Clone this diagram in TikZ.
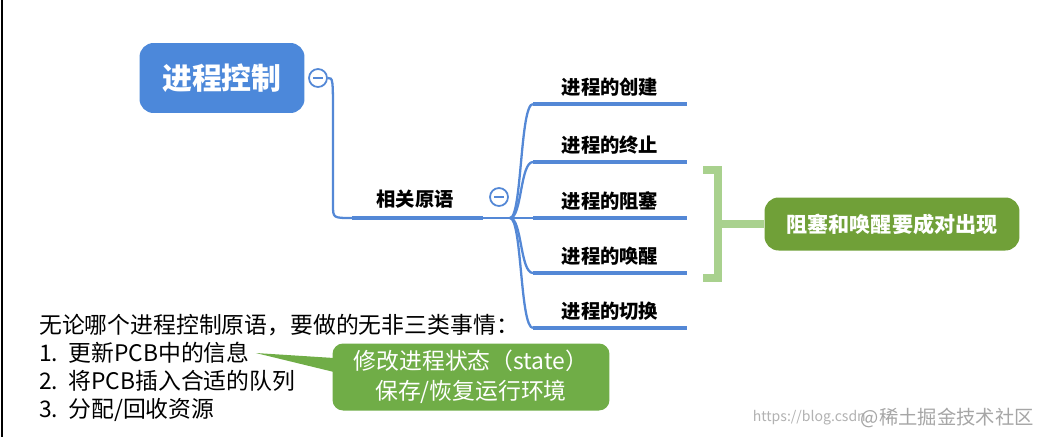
\documentclass[tikz,border=0pt]{standalone}
\usepackage{fontspec}
\setmainfont{Noto Sans CJK SC}
\newfontfamily\cjk{Noto Sans CJK SC}
\begin{document}
\begin{tikzpicture}[x=0.02cm,y=-0.02cm,
  conn/.style={draw=blueline,line width=1.3pt},
  uline/.style={draw=blueline,line width=2.6pt},
  minus/.style={circle,draw=blueline,line width=1pt,fill=white,minimum size=0.36cm,inner sep=0pt},
  lbl/.style={font=\fontsize{11}{13}\selectfont\bfseries,text=black},
  bodytxt/.style={font=\fontsize{13}{15}\selectfont,anchor=west,text=black}]
\definecolor{blueline}{RGB}{84,136,214}
\definecolor{mainblue}{RGB}{76,136,218}
\definecolor{lgreen}{RGB}{169,209,142}
\definecolor{dgreen}{RGB}{112,160,56}
\definecolor{cgreen}{RGB}{112,173,71}
\useasboundingbox (0,0) rectangle (1046,437);
\fill[white] (0,0) rectangle (1046,437);
\draw[line width=1pt] (2,0) -- (2,437);
% main node
\node[fill=mainblue,rounded corners=8pt,minimum width=3.3cm,minimum height=1.4cm,text=white,font=\fontsize{17}{20}\selectfont\bfseries] (main) at (222,78) {进程控制};
\node[minus] (m1) at (318,78) {};
\draw[blueline,line width=1pt] (313,78) -- (323,78);
\coordinate (r1s) at (352,218);
\coordinate (r1e) at (483,218);
\draw[conn] (m1.east) .. controls (333,78) .. (333,120) -- (333,205) .. controls (333,218) .. (r1s);
\draw[uline] (r1s) -- (r1e);
\node[lbl] (rel) at (415,199) {相关原语};
\node[minus] (m2) at (499,197) {};
\draw[blueline,line width=1pt] (494,197) -- (504,197);
\coordinate (hub) at (510,218);
\draw[conn] (r1e) -- (hub);
\foreach \y/\t/\n in {104/进程的创建/a,162/进程的终止/b,218/进程的阻塞/c,273/进程的唤醒/d,328/进程的切换/e}{
  \coordinate (s\n) at (533,\y);
  \coordinate (e\n) at (687,\y);
  \draw[conn] (hub) .. controls (522,218) and (520,\y) .. (s\n);
  \draw[uline] (s\n) -- (e\n);
  \node[lbl] (t\n) at (610,\y-17) {\t};
}
% bracket
\draw[lgreen,line width=4pt] (703,170) -- (718,170) -- (718,278) -- (703,278);
\coordinate (bm) at (718,224);
\node[fill=dgreen,rounded corners=8pt,minimum width=5.1cm,minimum height=1.06cm,text=white,font=\fontsize{12}{14}\selectfont\bfseries] (note) at (892,224) {阻塞和唤醒要成对出现};
\draw[lgreen,line width=4pt] (bm) -- (note.west);
% text block
\node[bodytxt] (h) at (33,325) {无论哪个进程控制原语，要做的无非三类事情：};
\node[bodytxt] (l1) at (33,353) {1.\ \ 更新PCB中的信息};
\node[bodytxt] (l2) at (33,381) {2.\ \ 将PCB插入合适的队列};
\node[bodytxt] (l3) at (33,410) {3.\ \ 分配/回收资源};
% callout
\node[fill=cgreen,rounded corners=6pt,minimum width=5.54cm,minimum height=1.34cm,text=white,align=center,font=\fontsize{13}{17}\selectfont] (call) at (471,377) {修改进程状态（state）\\保存/恢复运行环境};
\fill[cgreen] (l1.east) -- (334,358) -- (334,372) -- cycle;
% watermark
\node[text=gray!60,font=\fontsize{8}{9}\selectfont,anchor=east] (wm1) at (872,418) {https://blog.csdn};
\node[text=gray!70,font=\fontsize{11}{12}\selectfont,anchor=east] (wm2) at (1040,418) {@稀土掘金技术社区};
\end{tikzpicture}
\end{document}
